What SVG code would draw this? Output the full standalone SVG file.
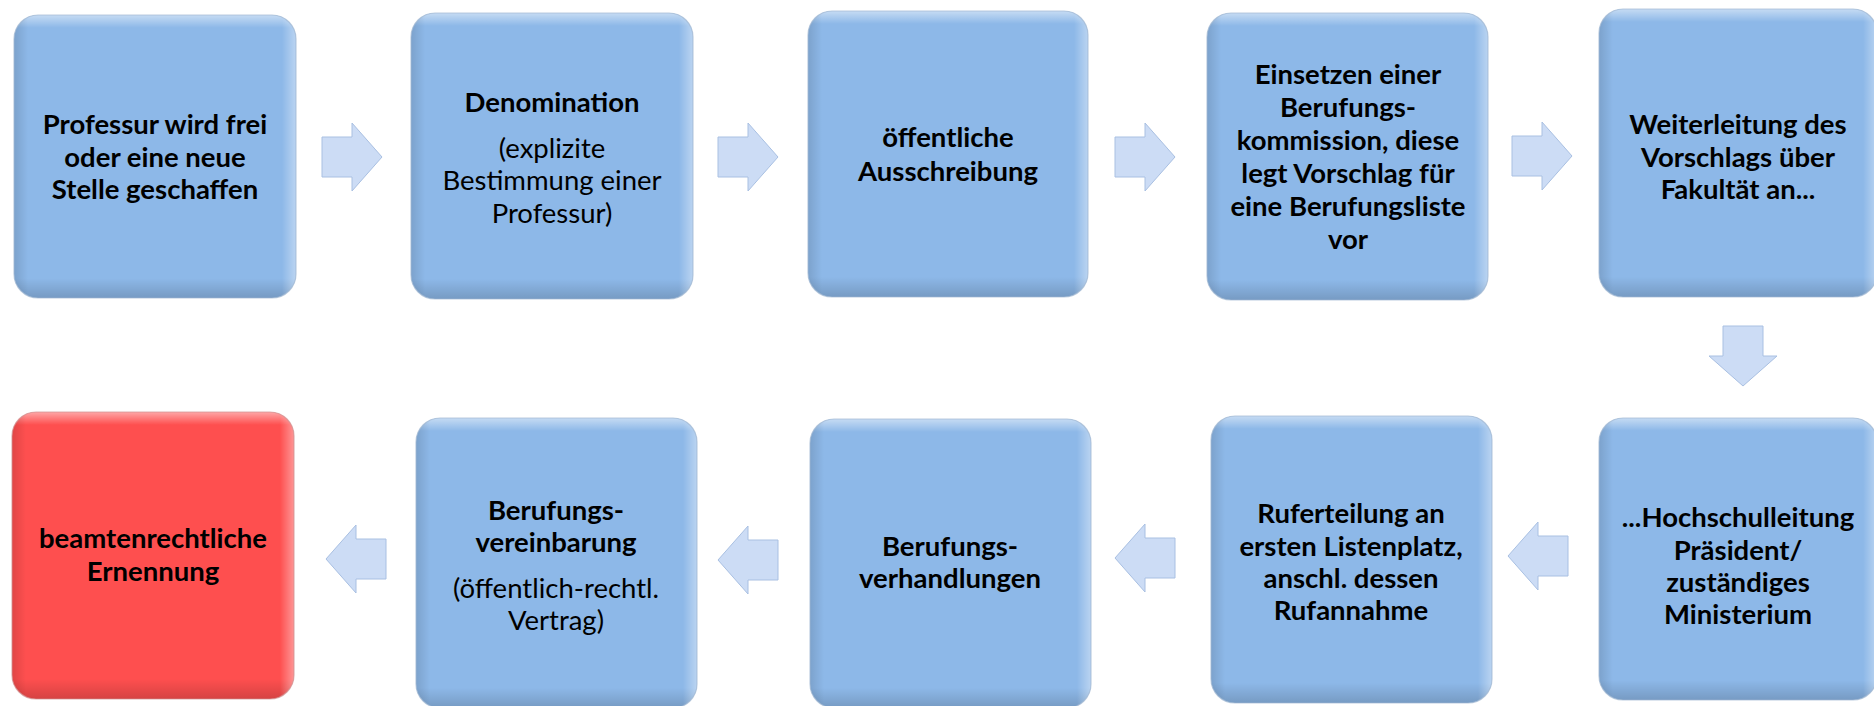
<svg xmlns="http://www.w3.org/2000/svg" xmlns:xlink="http://www.w3.org/1999/xlink" width="1874" height="706" viewBox="0 0 1874 706">
<style>
.bx{fill:#8DB8E8;}
.red{fill:#FE4F4F;}
.edge{fill:none;stroke:#9FB7D2;stroke-width:1.2;stroke-opacity:0.7;}
.shv{fill:url(#shV);}
.shh{fill:url(#shH);}
.t{font-family:Lato,"Open Sans","Liberation Sans",sans-serif;font-size:27.5px;fill:#000;text-anchor:middle;}
.b{font-weight:bold;}
.n{font-weight:normal;}
.ar{fill:#CCDCF5;stroke:#A9C0E2;stroke-width:1;}
</style>
<defs>
<linearGradient id="shV" x1="0" y1="0" x2="0" y2="1">
<stop offset="0" stop-color="#FFFFFF" stop-opacity="0.5"/>
<stop offset="0.045" stop-color="#FFFFFF" stop-opacity="0"/>
<stop offset="0.93" stop-color="#000000" stop-opacity="0"/>
<stop offset="1" stop-color="#000000" stop-opacity="0.16"/>
</linearGradient>
<linearGradient id="shH" x1="0" y1="0" x2="1" y2="0">
<stop offset="0" stop-color="#000000" stop-opacity="0.12"/>
<stop offset="0.05" stop-color="#000000" stop-opacity="0"/>
<stop offset="0.95" stop-color="#FFFFFF" stop-opacity="0"/>
<stop offset="1" stop-color="#FFFFFF" stop-opacity="0.4"/>
</linearGradient>
<path id="ar" class="ar" d="M-30,-20 H0 V-34 L30,0 L0,34 V20 H-30 Z"/>
</defs>

<g id="connectors">
<use xlink:href="#ar" href="#ar" transform="translate(352,157)"/>
<use xlink:href="#ar" href="#ar" transform="translate(748,157)"/>
<use xlink:href="#ar" href="#ar" transform="translate(1145,157)"/>
<use xlink:href="#ar" href="#ar" transform="translate(1542,156)"/>
<use xlink:href="#ar" href="#ar" transform="translate(1743,356) rotate(90)"/>
<use xlink:href="#ar" href="#ar" transform="translate(1538,556) rotate(180)"/>
<use xlink:href="#ar" href="#ar" transform="translate(1145,558) rotate(180)"/>
<use xlink:href="#ar" href="#ar" transform="translate(748,560) rotate(180)"/>
<use xlink:href="#ar" href="#ar" transform="translate(356,559) rotate(180)"/>
</g>

<g id="n1">
<rect class="bx" x="14" y="15" width="282" height="283" rx="24"/>
<rect class="shv" x="14" y="15" width="282" height="283" rx="24"/>
<rect class="shh" x="14" y="15" width="282" height="283" rx="24"/>
<rect class="edge" x="14" y="15" width="282" height="283" rx="24"/>
<text class="t b" x="155" y="134">Professur wird frei</text>
<text class="t b" x="155" y="167">oder eine neue</text>
<text class="t b" x="155" y="199">Stelle geschaffen</text>
</g>

<g id="n2">
<rect class="bx" x="411" y="13" width="282" height="286" rx="24"/>
<rect class="shv" x="411" y="13" width="282" height="286" rx="24"/>
<rect class="shh" x="411" y="13" width="282" height="286" rx="24"/>
<rect class="edge" x="411" y="13" width="282" height="286" rx="24"/>
<text class="t b" x="552" y="112">Denomination</text>
<text class="t n" x="552" y="158">(explizite</text>
<text class="t n" x="552" y="190">Bestimmung einer</text>
<text class="t n" x="552" y="223">Professur)</text>
</g>

<g id="n3">
<rect class="bx" x="808" y="11" width="280" height="286" rx="24"/>
<rect class="shv" x="808" y="11" width="280" height="286" rx="24"/>
<rect class="shh" x="808" y="11" width="280" height="286" rx="24"/>
<rect class="edge" x="808" y="11" width="280" height="286" rx="24"/>
<text class="t b" x="948" y="147">öffentliche</text>
<text class="t b" x="948" y="181">Ausschreibung</text>
</g>

<g id="n4">
<rect class="bx" x="1207" y="13" width="281" height="287" rx="24"/>
<rect class="shv" x="1207" y="13" width="281" height="287" rx="24"/>
<rect class="shh" x="1207" y="13" width="281" height="287" rx="24"/>
<rect class="edge" x="1207" y="13" width="281" height="287" rx="24"/>
<text class="t b" x="1348" y="84">Einsetzen einer</text>
<text class="t b" x="1348" y="117">Berufungs-</text>
<text class="t b" x="1348" y="150">kommission, diese</text>
<text class="t b" x="1348" y="183">legt Vorschlag für</text>
<text class="t b" x="1348" y="216">eine Berufungsliste</text>
<text class="t b" x="1348" y="249">vor</text>
</g>

<g id="n5">
<rect class="bx" x="1599" y="9" width="278" height="288" rx="24"/>
<rect class="shv" x="1599" y="9" width="278" height="288" rx="24"/>
<rect class="shh" x="1599" y="9" width="278" height="288" rx="24"/>
<rect class="edge" x="1599" y="9" width="278" height="288" rx="24"/>
<text class="t b" x="1738" y="134">Weiterleitung des</text>
<text class="t b" x="1738" y="167">Vorschlags über</text>
<text class="t b" x="1738" y="199">Fakultät an...</text>
</g>

<g id="n6">
<rect class="bx" x="1599" y="418" width="278" height="282" rx="24"/>
<rect class="shv" x="1599" y="418" width="278" height="282" rx="24"/>
<rect class="shh" x="1599" y="418" width="278" height="282" rx="24"/>
<rect class="edge" x="1599" y="418" width="278" height="282" rx="24"/>
<text class="t b" x="1738" y="527">...Hochschulleitung</text>
<text class="t b" x="1738" y="560">Präsident/</text>
<text class="t b" x="1738" y="592">zuständiges</text>
<text class="t b" x="1738" y="624">Ministerium</text>
</g>

<g id="n7">
<rect class="bx" x="1211" y="416" width="281" height="287" rx="24"/>
<rect class="shv" x="1211" y="416" width="281" height="287" rx="24"/>
<rect class="shh" x="1211" y="416" width="281" height="287" rx="24"/>
<rect class="edge" x="1211" y="416" width="281" height="287" rx="24"/>
<text class="t b" x="1351" y="523">Ruferteilung an</text>
<text class="t b" x="1351" y="556">ersten Listenplatz,</text>
<text class="t b" x="1351" y="588">anschl. dessen</text>
<text class="t b" x="1351" y="620">Rufannahme</text>
</g>

<g id="n8">
<rect class="bx" x="810" y="419" width="281" height="289" rx="24"/>
<rect class="shv" x="810" y="419" width="281" height="289" rx="24"/>
<rect class="shh" x="810" y="419" width="281" height="289" rx="24"/>
<rect class="edge" x="810" y="419" width="281" height="289" rx="24"/>
<text class="t b" x="950" y="556">Berufungs-</text>
<text class="t b" x="950" y="588">verhandlungen</text>
</g>

<g id="n9">
<rect class="bx" x="416" y="418" width="281" height="290" rx="24"/>
<rect class="shv" x="416" y="418" width="281" height="290" rx="24"/>
<rect class="shh" x="416" y="418" width="281" height="290" rx="24"/>
<rect class="edge" x="416" y="418" width="281" height="290" rx="24"/>
<text class="t b" x="556" y="520">Berufungs-</text>
<text class="t b" x="556" y="552">vereinbarung</text>
<text class="t n" x="556" y="598">(öffentlich-rechtl.</text>
<text class="t n" x="556" y="630">Vertrag)</text>
</g>

<g id="n10">
<rect class="red" x="12" y="412" width="282" height="287" rx="24"/>
<rect class="shv" x="12" y="412" width="282" height="287" rx="24"/>
<rect class="shh" x="12" y="412" width="282" height="287" rx="24"/>
<rect class="edge" x="12" y="412" width="282" height="287" rx="24" style="stroke:#D09090"/>
<text class="t b" x="153" y="548">beamtenrechtliche</text>
<text class="t b" x="153" y="581">Ernennung</text>
</g>
</svg>
